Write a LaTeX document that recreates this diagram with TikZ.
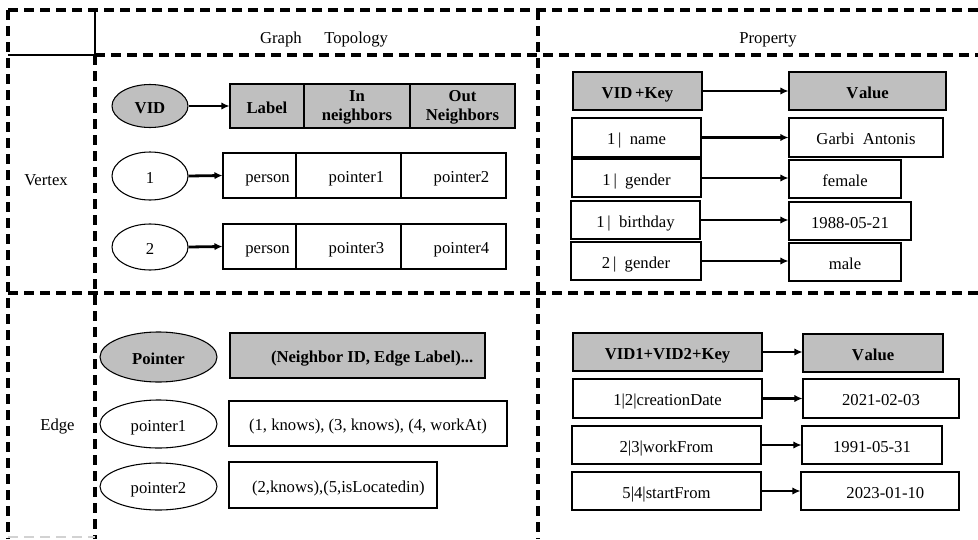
\documentclass[tikz,border=0pt]{standalone}
\usepackage{fontspec}
\setmainfont{Liberation Serif}
\usetikzlibrary{shapes.geometric}
\usetikzlibrary{arrows.meta}

\begin{document}
\begin{tikzpicture}[x=0.75pt,y=-0.75pt,>={Latex[length=6pt,width=5.5pt]}]

% colors
\definecolor{headerGray}{HTML}{BFBFBF}
\definecolor{frameBlack}{HTML}{000000}

% one pixel of the layout grid
\def\px{0.75pt}
\def\cellFont{\fontsize{12.5}{14}\selectfont}

\tikzset{
    cell/.style 2 args={draw, line width=0.8pt, rectangle, inner sep=0pt,
        minimum width=#1*\px, minimum height=#2*\px, font=\cellFont,
        text height=11.5pt, text depth=0.5pt},
    headCell/.style 2 args={cell={#1}{#2}, fill=headerGray, font=\cellFont\bfseries},
    % two-line header cells keep their natural height
    tallHeadCell/.style 2 args={draw, line width=0.8pt, rectangle, inner sep=0pt,
        minimum width=#1*\px, minimum height=#2*\px, fill=headerGray,
        font=\cellFont\bfseries, align=center},
    idOval/.style 2 args={draw, line width=0.8pt, ellipse, inner sep=0pt,
        minimum width=#1*\px, minimum height=#2*\px, font=\cellFont,
        text height=11.5pt, text depth=0.5pt},
    headOval/.style 2 args={idOval={#1}{#2}, fill=headerGray, font=\cellFont\bfseries},
    title/.style={font=\cellFont, text height=11.5pt, text depth=0.5pt},
    gridLine/.style={frameBlack, line width=2.3pt, dash pattern=on 7.5pt off 4.5pt},
    link/.style={->, line width=2.1pt},
}

\useasboundingbox (0,0) rectangle (978,539);

% table frame
\draw[gridLine] (8,10) -- (978,10);
\draw[gridLine] (8,10) -- (8,539);
\draw[frameBlack, line width=1.8pt] (95,10) -- (95,55) -- (8,55);
\draw[gridLine] (95,55) -- (978,55);
\draw[gridLine] (95,55) -- (95,539);
\draw[gridLine] (538,10) -- (538,539);
\draw[gridLine] (8,293) -- (978,293);
\draw[gray!35, line width=1pt, dash pattern=on 7.5pt off 4.5pt] (8,537) -- (95,537);

% column and row titles
\node[title] (topologyTitle) at (324,36) {Graph\hspace{1.35em}Topology};
\node[title] (propertyTitle) at (768,36) {Property};
\node[title] (vertexTitle) at (46,178) {Vertex};
\node[title] (edgeTitle) at (57.5,423) {Edge};

% vertex topology
\node[headOval={76}{43}] (vidOval) at (150,106) {VID};
\node[headCell={74}{44}] (labelHead) at (267,106) {Label};
\node[tallHeadCell={106}{44}] (inHead) at (357,106) {\strut In\\neighbors};
\node[tallHeadCell={105}{44}] (outHead) at (462.5,106) {\strut Out\\Neighbors};

\node[idOval={76}{48}] (vOne) at (150,176) {1};
\node[cell={73}{45}] (vOneLabel) at (259.5,175.5) {\hspace{12pt}person};
\node[cell={105}{45}] (vOneIn) at (348.5,175.5) {\hspace{12pt}pointer1};
\node[cell={105}{45}] (vOneOut) at (453.5,175.5) {\hspace{12pt}pointer2};

\node[idOval={76}{46}] (vTwo) at (150,247) {2};
\node[cell={73}{45}] (vTwoLabel) at (259.5,246.5) {\hspace{12pt}person};
\node[cell={105}{45}] (vTwoIn) at (348.5,246.5) {\hspace{12pt}pointer3};
\node[cell={105}{45}] (vTwoOut) at (453.5,246.5) {\hspace{12pt}pointer4};

\draw[link] (vidOval.east) -- (labelHead.west);
\draw[link] (vOne.east) -- (vOneLabel.west);
\draw[link] (vTwo.east) -- (vTwoLabel.west);

% vertex property
\node[headCell={129}{38}] (vKeyHead) at (637.5,91) {VID\,+Key};
\node[headCell={157}{38}] (vValHead) at (867.5,91) {V\hspace{0.5pt}alue};

\node[cell={129}{39}] (nameKey) at (636.5,137.5) {1\,|\ \ name};
\node[cell={154}{39}] (nameVal) at (866,137.5) {Garbi\ \ Antonis};
\node[cell={129}{38}] (genderKey) at (636.5,178) {1\,|\ \ gender};
\node[cell={112}{38}] (genderVal) at (845,179) {female};
\node[cell={129}{38}] (birthKey) at (635.5,220) {1\,|\ \ birthday};
\node[cell={122}{38}] (birthVal) at (850,221) {1988-05-21};
\node[cell={130}{38}] (genderTwoKey) at (636,261) {2\,|\ \ gender};
\node[cell={112}{38}] (genderTwoVal) at (845,262) {male};

\draw[link] (vKeyHead.east) -- (vKeyHead.east -| vValHead.west);
\draw[link] (nameKey.east) -- (nameKey.east -| nameVal.west);
\draw[link] (genderKey.east) -- (genderKey.east -| genderVal.west);
\draw[link] (birthKey.east) -- (birthKey.east -| birthVal.west);
\draw[link] (genderTwoKey.east) -- (genderTwoKey.east -| genderTwoVal.west);

% edge topology
\node[headOval={117}{50}] (pointerOval) at (158.5,357) {Pointer};
\node[headCell={255}{45}] (neighborHead) at (357.5,355.5) {\hspace{22pt}(Neighbor ID, Edge Label)...};

\node[idOval={117}{48}] (pOne) at (158.5,424) {pointer1};
\node[cell={278}{45}] (pOneList) at (368,423.5) {(1, knows), (3, knows), (4, workAt)};
\node[idOval={117}{47}] (pTwo) at (158.5,486.5) {pointer2};
\node[cell={208}{46}] (pTwoList) at (333,485) {\hspace{8pt}(2,knows),(5,isLocatedin)};

% edge property
\node[headCell={189}{38}] (eKeyHead) at (667.5,352) {VID1+VID2+Key};
\node[headCell={140}{38}] (eValHead) at (873,353) {V\hspace{0.5pt}alue};

\node[cell={189}{39}] (creationKey) at (667.5,398.5) {1|2|creationDate};
\node[cell={156}{39}] (creationVal) at (881,398.5) {2021-02-03};
\node[cell={189}{38}] (workKey) at (666.5,445) {2|3|workFrom};
\node[cell={140}{38}] (workVal) at (872,445) {1991-05-31};
\node[cell={189}{38}] (startKey) at (666.5,491) {5|4|startFrom};
\node[cell={158}{38}] (startVal) at (880,491) {\hspace{8pt}2023-01-10};

\draw[link] (eKeyHead.east) -- (eKeyHead.east -| eValHead.west);
\draw[link] (creationKey.east) -- (creationKey.east -| creationVal.west);
\draw[link] (workKey.east) -- (workKey.east -| workVal.west);
\draw[link] (startKey.east) -- (startKey.east -| startVal.west);

\end{tikzpicture}
\end{document}
